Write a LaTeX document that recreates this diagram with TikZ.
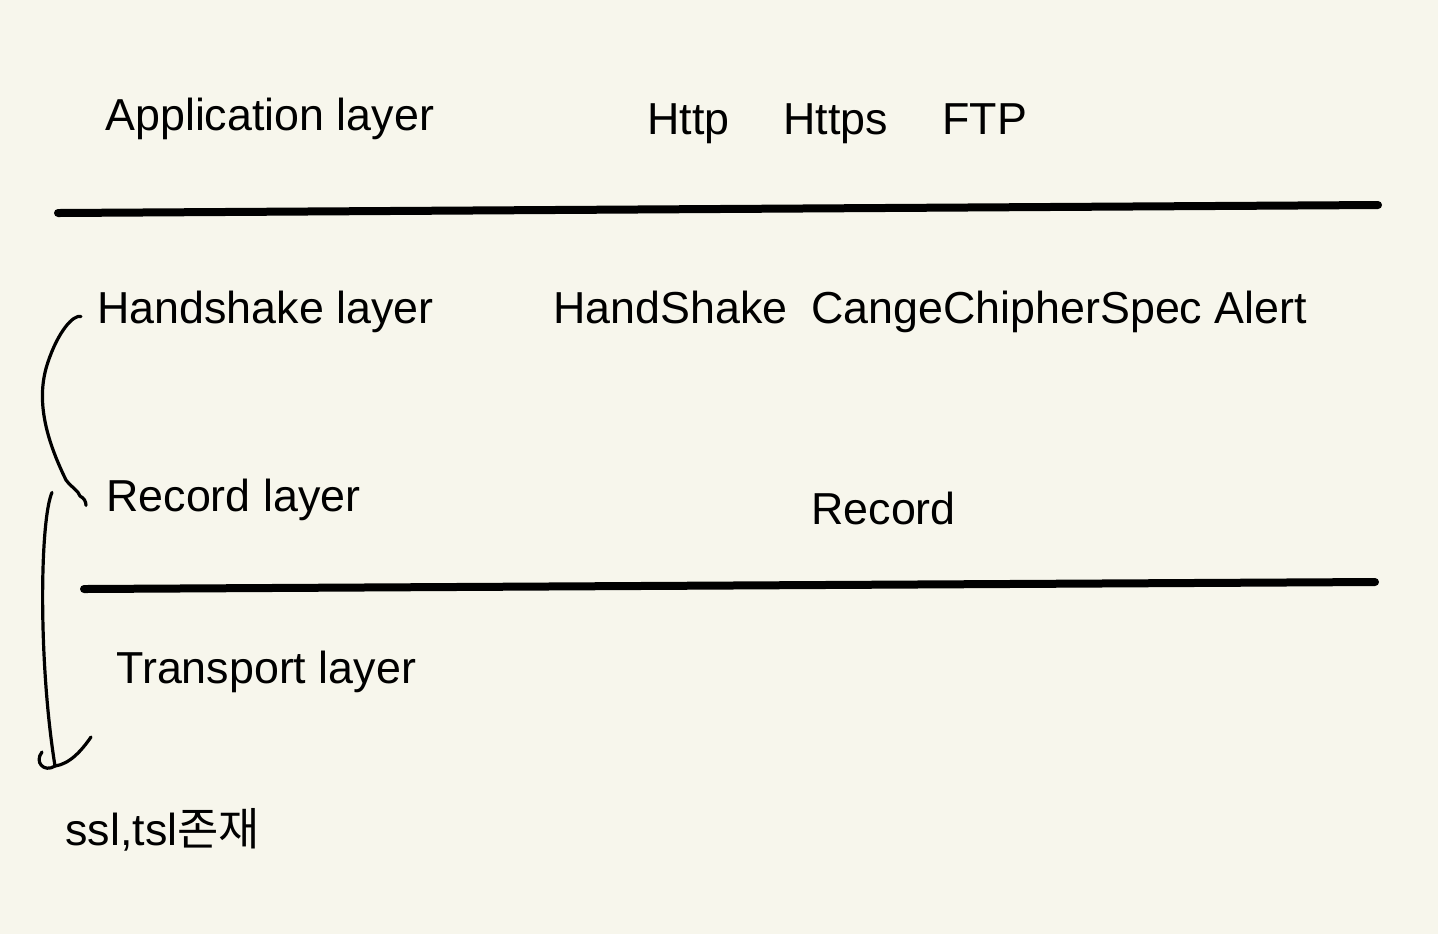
\documentclass[tikz,border=0pt]{standalone}
\usepackage{fontspec}
\setmainfont{Liberation Sans}
\newfontfamily\krfont{Noto Sans CJK KR}
\usetikzlibrary{calc}
\definecolor{paper}{RGB}{247,246,236}

\begin{document}
\begin{tikzpicture}[x=0.5pt,y=-0.5pt,
  lbl/.style={anchor=base west,inner sep=0pt,font=\fontsize{22.4}{26}\selectfont},
  sep/.style={line width=4pt,line cap=round},
  pen/.style={line width=1.6pt,line cap=round,line join=round}]
\fill[paper] (0,0) rectangle (1438,934);
\useasboundingbox (0,0) rectangle (1438,934);

% application
\node[lbl] (app) at (105,130) {Application layer};
\node[lbl] (http) at (647,134) {Http};
\node[lbl] (https) at (783,134) {Https};
\node[lbl] (ftp) at (942,134) {FTP};

\coordinate (S1) at (58,213);
\coordinate (E1) at (1378,205);
\draw[sep] (S1) -- (E1);

% tls
\node[lbl] (hsl) at (97,323) {Handshake layer};
\node[lbl] (hs) at (553,323) {HandShake};
\node[lbl] (ccs) at (811,323) {CangeChipherSpec Alert};
\node[lbl] (rl) at (106,511) {Record layer};
\node[lbl] (rec) at (811,524) {Record};

\coordinate (S2) at (84,589);
\coordinate (E2) at (1375,582);
\draw[sep] (S2) -- (E2);

% transport
\node[lbl] (tl) at (116,683) {Transport layer};
\node[lbl] (ssl) at (65,845) {ssl,tsl{\krfont 존재}};

% brace
\coordinate (B1) at ($(hsl.west)+(-16,5)$);
\coordinate (B2) at ($(rl.west)+(-20,6)$);
\draw[pen] (B1) .. controls +(-8,-2) and +(10,-30) .. (48,362)
  .. controls +(-12,35) and +(-22,-45) .. (66,480)
  .. controls +(6,8) and +(-2,-6) .. (80,496)
  .. controls +(4,2) and +(0,-4) .. (B2);

% arrow
\coordinate (A1) at ($(rl.west)+(-54,-7)$);
\coordinate (A2) at (55,766);
\draw[pen] (A1) .. controls (40,520) and (38,660) .. (A2);
\draw[pen] (42,752) .. controls (34,762) and (44,773) .. (A2)
  .. controls (70,764) and (82,750) .. (91,737);
\end{tikzpicture}
\end{document}
